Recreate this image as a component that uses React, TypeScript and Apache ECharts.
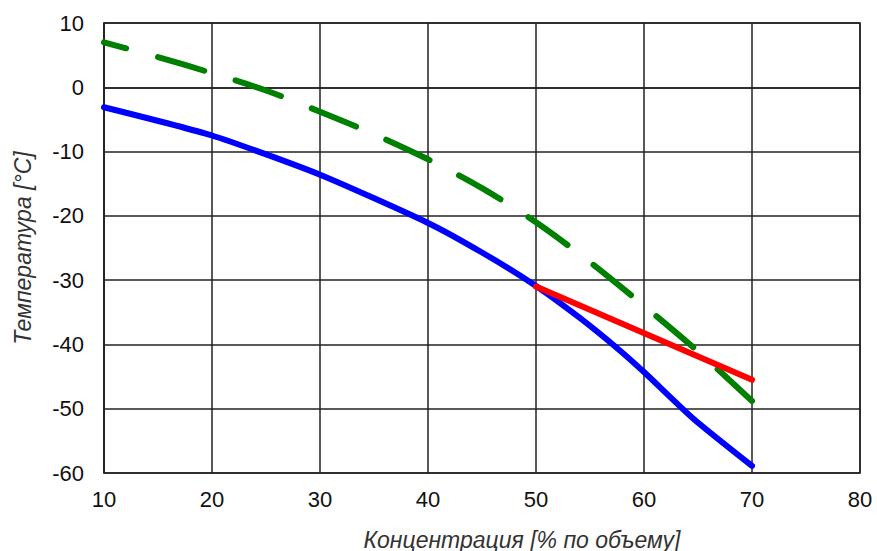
import React, { useEffect, useRef } from "react";
import * as echarts from "echarts";

const blueX = [10, 20, 30, 40, 45, 50, 54, 57.6, 60, 64.6, 70];
const blueY = [-3.1, -7.5, -13.6, -21.1, -25.7, -30.9, -35.8, -40.7, -44.3, -51.6, -58.9];

const greenX = [10, 15, 20, 25, 30, 35, 40, 45, 50, 55, 60, 65, 70];
const greenY = [7, 4.7, 2.2, -0.5, -3.8, -7.3, -11.2, -15.7, -21, -27.2, -34, -41.1, -48.8];

const redX = [50, 70];
const redY = [-31, -45.5];

const xTicks = [10, 20, 30, 40, 50, 60, 70, 80];
const yTicks = [10, 0, -10, -20, -30, -40, -50, -60];

const xName = "Концентрация [% по объему]";
const yName = "Температура [°C]";

function pairs(xs: number[], ys: number[]) {
  return xs.map((x, i) => [x, ys[i]]);
}

export default function App() {
  const ref = useRef<HTMLDivElement>(null);
  useEffect(() => {
    if (!ref.current) return;
    const chart = echarts.init(ref.current, undefined, { renderer: "svg" });
    const font = "'Liberation Sans', Arial, sans-serif";
    chart.setOption({
      animation: false,
      backgroundColor: "#ffffff",
      grid: {
        left: 104,
        top: 23,
        width: 756,
        height: 450,
        show: true,
        borderColor: "#222",
        borderWidth: 1.5,
        backgroundColor: "transparent",
        outerBoundsMode: "none",
        containLabel: false,
      },
      xAxis: {
        type: "value",
        min: xTicks[0],
        max: xTicks[xTicks.length - 1],
        interval: 10,
        name: xName,
        nameLocation: "middle",
        nameGap: 55,
        nameTextStyle: {
          fontFamily: font,
          fontSize: 23,
          fontStyle: "italic",
          color: "#333",
          padding: [0, 0, 0, 80],
        },
        axisLine: { show: true, lineStyle: { color: "#222", width: 1.5 } },
        axisTick: { show: false },
        axisLabel: { fontFamily: font, fontSize: 22, color: "#111", margin: 15 },
        splitLine: { show: true, lineStyle: { color: "#222", width: 1.5 } },
      },
      yAxis: {
        type: "value",
        min: yTicks[yTicks.length - 1],
        max: yTicks[0],
        interval: 10,
        name: yName,
        nameLocation: "middle",
        nameRotate: 90,
        nameGap: 70,
        nameTextStyle: {
          fontFamily: font,
          fontSize: 23,
          fontStyle: "italic",
          color: "#333",
        },
        axisLine: { show: true, lineStyle: { color: "#222", width: 1.5 } },
        axisTick: { show: false },
        axisLabel: { fontFamily: font, fontSize: 22, color: "#111", margin: 20 },
        splitLine: { show: true, lineStyle: { color: "#222", width: 1.5 } },
      },
      series: [
        {
          type: "line",
          data: pairs(greenX, greenY),
          smooth: 0.3,
          showSymbol: false,
          lineStyle: {
            color: "#008000",
            width: 6,
            type: [48, 33],
            dashOffset: 25,
            cap: "round",
          },
          z: 3,
        },
        {
          type: "line",
          data: pairs(blueX, blueY),
          smooth: 0.2,
          showSymbol: false,
          lineStyle: { color: "#0000ff", width: 6, cap: "round", join: "round" },
          z: 2,
        },
        {
          type: "line",
          data: pairs(redX, redY),
          showSymbol: false,
          lineStyle: { color: "#ff0000", width: 6, cap: "round" },
          z: 4,
        },
      ],
    });
    return () => chart.dispose();
  }, []);
  return (
    <div
      ref={ref}
      style={{ position: "fixed", left: 0, top: 0, width: 877, height: 551, background: "#fff" }}
    />
  );
}
